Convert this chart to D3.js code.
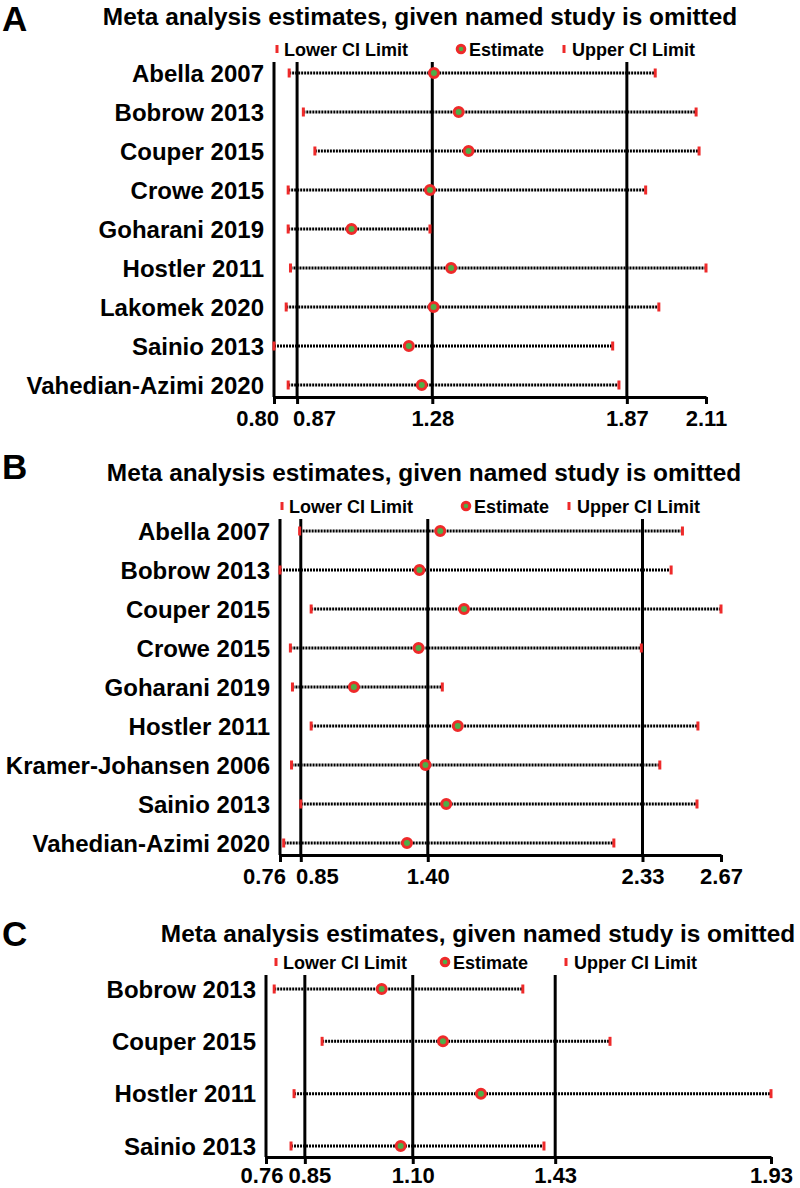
<!DOCTYPE html>
<html>
<head>
<meta charset="utf-8">
<script src="https://d3js.org/d3.v7.min.js"></script>
<style>
  body { margin: 0; background: #fff; }
  svg { display: block; font-family: "Liberation Sans", Arial, sans-serif; font-weight: bold; }
</style>
</head>
<body>
<svg id="chart" width="800" height="1188"></svg>
<script>
// Panel A data
const studiesA = ["Abella 2007", "Bobrow 2013", "Couper 2015", "Crowe 2015", "Goharani 2019",
                  "Hostler 2011", "Lakomek 2020", "Sainio 2013", "Vahedian-Azimi 2020"];
const lowerA = [0.846, 0.889, 0.924, 0.843, 0.843, 0.850, 0.837, 0.800, 0.843];
const estimateA = [1.285, 1.360, 1.390, 1.273, 1.035, 1.337, 1.284, 1.209, 1.248];
const upperA = [1.956, 2.080, 2.089, 1.927, 1.273, 2.110, 1.967, 1.827, 1.846];
const ticksA = [0.80, 0.87, 1.28, 1.87, 2.11];

// Panel B data
const studiesB = ["Abella 2007", "Bobrow 2013", "Couper 2015", "Crowe 2015", "Goharani 2019",
                  "Hostler 2011", "Kramer-Johansen 2006", "Sainio 2013", "Vahedian-Azimi 2020"];
const lowerB = [0.845, 0.760, 0.895, 0.805, 0.814, 0.895, 0.810, 0.850, 0.776];
const estimateB = [1.454, 1.364, 1.557, 1.360, 1.080, 1.530, 1.390, 1.480, 1.310];
const upperB = [2.503, 2.454, 2.670, 2.325, 1.463, 2.570, 2.405, 2.566, 2.206];
const ticksB = [0.76, 0.85, 1.40, 2.33, 2.67];

// Panel C data
const studiesC = ["Bobrow 2013", "Couper 2015", "Hostler 2011", "Sainio 2013"];
const lowerC = [0.779, 0.890, 0.825, 0.818];
const estimateC = [1.028, 1.170, 1.258, 1.072];
const upperC = [1.355, 1.557, 1.930, 1.404];
const ticksC = [0.76, 0.85, 1.10, 1.43, 1.93];

const titleText = "Meta analysis estimates, given named study is omitted";
const legendLabels = ["Lower CI Limit", "Estimate", "Upper CI Limit"];

const RED = '#ee2a2a';
const GREEN = '#4fae48';

const svg = d3.select('#chart');

const panels = [
    { letter: 'A', studies: studiesA, lower: lowerA, est: estimateA, upper: upperA, ticks: ticksA,
      x0: 274, x1: 706, rowTop: 73, rowBottom: 385, lineTop: 62, axisY: 397, labelY: 13,
      letterY: 31, titleX: 420, titleY: 25, legendY: 49, legendX: [277, 461, 564], labelGap: 14 },
    { letter: 'B', studies: studiesB, lower: lowerB, est: estimateB, upper: upperB, ticks: ticksB,
      x0: 280, x1: 721, rowTop: 531, rowBottom: 843, lineTop: 519, axisY: 855, labelY: 13,
      letterY: 479, titleX: 424, titleY: 481, legendY: 506, legendX: [282, 466, 569], labelGap: 10 },
    { letter: 'C', studies: studiesC, lower: lowerC, est: estimateC, upper: upperC, ticks: ticksC,
      x0: 266, x1: 771, rowTop: 989, rowBottom: 1146, lineTop: 975, axisY: 1157, labelY: 10,
      letterY: 946, titleX: 478, titleY: 942, legendY: 962, legendX: [276, 445, 566], labelGap: 5 }
];

panels.forEach(drawPanel);

function drawPanel(p) {
    const g = svg.append('g');
    const ticks = p.ticks;
    const x = d3.scaleLinear()
        .domain([ticks[0], ticks[ticks.length - 1]])
        .range([p.x0, p.x1]);
    const y = d3.scalePoint()
        .domain(p.studies)
        .range([p.rowTop, p.rowBottom]);

    // Panel letter and title
    g.append('text')
        .attr('x', 2)
        .attr('y', p.letterY)
        .style('font-size', '35px')
        .text(p.letter);

    g.append('text')
        .attr('x', p.titleX)
        .attr('y', p.titleY)
        .attr('text-anchor', 'middle')
        .style('font-size', '24.4px')
        .text(titleText);

    // Legend
    const lg = g.append('g').attr('transform', `translate(0,${p.legendY})`);
    lg.append('rect')
        .attr('x', p.legendX[0] - 1.5).attr('y', -4)
        .attr('width', 3).attr('height', 8)
        .attr('fill', RED);
    lg.append('circle')
        .attr('cx', p.legendX[1]).attr('cy', 0)
        .attr('r', 3.8)
        .attr('fill', GREEN)
        .attr('stroke', RED)
        .attr('stroke-width', 3);
    lg.append('rect')
        .attr('x', p.legendX[2] - 1.5).attr('y', -4)
        .attr('width', 3).attr('height', 8)
        .attr('fill', RED);
    [p.legendX[0] + 7, p.legendX[1] + 8, p.legendX[2] + 8].forEach((lx, i) => {
        lg.append('text')
            .attr('x', lx)
            .attr('y', 6.5)
            .style('font-size', '18px')
            .text(legendLabels[i]);
    });

    // Reference lines (overall lower CI, estimate, upper CI)
    g.selectAll('.ref')
        .data(ticks.slice(1, -1))
        .join('line')
        .attr('x1', d => x(d)).attr('x2', d => x(d))
        .attr('y1', p.lineTop).attr('y2', p.axisY)
        .attr('stroke', '#000')
        .attr('stroke-width', 3);

    // Left axis line
    g.append('line')
        .attr('x1', p.x0).attr('x2', p.x0)
        .attr('y1', p.lineTop).attr('y2', p.axisY)
        .attr('stroke', '#000')
        .attr('stroke-width', 3);

    // Study labels
    g.selectAll('.study')
        .data(p.studies)
        .join('text')
        .attr('x', p.x0 - 10)
        .attr('y', d => y(d))
        .attr('dy', '0.36em')
        .attr('text-anchor', 'end')
        .style('font-size', '24px')
        .text(d => d);

    // Whiskers
    const rows = p.studies.map((s, i) => ({ study: s, lo: p.lower[i], est: p.est[i], hi: p.upper[i] }));

    g.selectAll('.whisker')
        .data(rows)
        .join('line')
        .attr('x1', d => x(d.lo)).attr('x2', d => x(d.hi))
        .attr('y1', d => y(d.study)).attr('y2', d => y(d.study))
        .attr('stroke', '#000')
        .attr('stroke-width', 3)
        .attr('stroke-dasharray', '2,1');

    g.selectAll('.lo')
        .data(rows)
        .join('rect')
        .attr('x', d => x(d.lo) - 1.5)
        .attr('y', d => y(d.study) - 4.5)
        .attr('width', 3).attr('height', 9)
        .attr('fill', RED);

    g.selectAll('.hi')
        .data(rows)
        .join('rect')
        .attr('x', d => x(d.hi) - 1.5)
        .attr('y', d => y(d.study) - 4.5)
        .attr('width', 3).attr('height', 9)
        .attr('fill', RED);

    g.selectAll('.est')
        .data(rows)
        .join('circle')
        .attr('cx', d => x(d.est))
        .attr('cy', d => y(d.study))
        .attr('r', 4.5)
        .attr('fill', GREEN)
        .attr('stroke', RED)
        .attr('stroke-width', 3);

    // Bottom axis
    const axis = g.append('g')
        .attr('transform', `translate(0,${p.axisY})`)
        .call(d3.axisBottom(x)
            .tickValues(ticks)
            .tickSize(7)
            .tickSizeOuter(0)
            .tickFormat(d3.format('.2f')));
    axis.select('.domain')
        .attr('stroke', '#000')
        .attr('stroke-width', 3);
    axis.selectAll('.tick line')
        .attr('stroke', '#000')
        .attr('stroke-width', 3);
    const labels = axis.selectAll('.tick text')
        .attr('y', p.labelY)
        .attr('fill', '#000')
        .style('font-size', '22px')
        .style('font-family', '"Liberation Sans", Arial, sans-serif')
        .style('font-weight', 'bold');

    // Push overlapping tick labels apart
    const nodes = labels.nodes();
    const pos = ticks.map(t => x(t));
    const w = nodes.map(n => n.getComputedTextLength());
    for (let i = 0; i < nodes.length - 1; i++) {
        const overlap = (pos[i] + w[i] / 2 + p.labelGap) - (pos[i + 1] - w[i + 1] / 2);
        if (overlap > 0) {
            d3.select(nodes[i]).attr('dx', -overlap / 2);
            d3.select(nodes[i + 1]).attr('dx', overlap / 2);
        }
    }
}
</script>
</body>
</html>
